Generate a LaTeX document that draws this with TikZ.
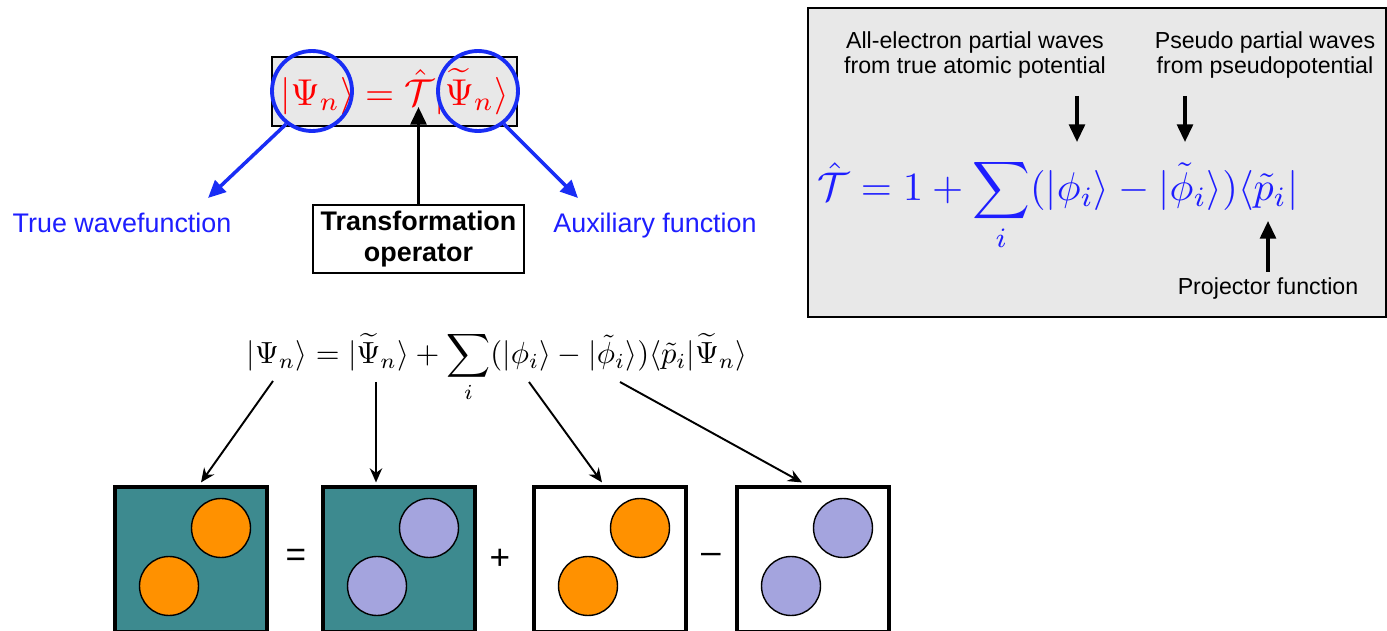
\documentclass[tikz,border=0pt]{standalone}
\usepackage{amsmath}
\usepackage[no-math]{fontspec}
\newfontfamily\arialfont{Liberation Sans}
\usetikzlibrary{calc,arrows.meta,positioning}
\definecolor{ringblue}{RGB}{25,45,245}
\definecolor{lblblue}{RGB}{30,30,255}
\definecolor{panelgray}{RGB}{232,232,232}
\definecolor{cellteal}{RGB}{61,138,143}
\definecolor{coreorange}{RGB}{255,145,0}
\definecolor{corelav}{RGB}{164,164,222}
\tikzset{
  bluelbl/.style={text=lblblue,font=\arialfont\fontsize{15.3}{18}\selectfont},
  ring/.style={draw=ringblue,line width=2.2pt,circle,minimum size=1.6cm,inner sep=0pt},
  bluearr/.style={draw=ringblue,line width=2pt,-{Triangle[length=10pt,width=9pt]}},
  thickarr/.style={line width=1.8pt,-{Triangle[length=10pt,width=9pt]}},
  thinarr/.style={line width=1.1pt,-{Stealth[length=8pt,width=7pt]}},
  note/.style={font=\arialfont\fontsize{13.2}{14.6}\selectfont,align=center},
  cell/.style={draw,line width=1.8pt,minimum width=3.04cm,minimum height=2.9cm,inner sep=0pt},
  core/.style={draw,line width=0.8pt,circle,minimum size=1.18cm,inner sep=0pt},
  opsign/.style={font=\arialfont\fontsize{20}{24}\selectfont}
}

\begin{document}
\begin{tikzpicture}[x=0.02cm,y=-0.02cm]
  %%%%% START %%%%%
  \useasboundingbox (0,0) rectangle (1387,631);

  % top: transformation of the wavefunction
  \node[draw,line width=1pt,fill=panelgray,minimum width=4.9cm,minimum height=1.38cm,inner sep=0pt,
        text=red] (topeq) at (394.5,91.5)
        {\scalebox{2.13}{$|\Psi_n\rangle=\hat{\mathcal{T}}|\widetilde{\Psi}_n\rangle$}};
  \node[ring] (lring) at (312,91) {};
  \node[ring] (rring) at (478,91) {};

  \node[bluelbl] (truewf) at (122,223) {True wavefunction};
  \node[bluelbl] (auxf) at (655,226) {Auxiliary function};
  \node[draw,line width=1.2pt,minimum width=4.22cm,minimum height=1.36cm,align=center,
        font=\arialfont\bfseries\fontsize{15.3}{18}\selectfont] (transop) at (418.5,239)
        {Transformation\\operator};

  \coordinate (truetip) at (208,198);
  \coordinate (auxtip) at (578,198);
  \coordinate (Ttip) at (418.5,107);
  \draw[bluearr] (lring.232) -- (truetip);
  \draw[bluearr] (rring.-52) -- (auxtip);
  \draw[thickarr] (transop.north) -- (Ttip);

  % right panel: the operator
  \node[draw,line width=1.2pt,fill=panelgray,minimum width=11.56cm,minimum height=6.18cm] (panel) at (1097,162.5) {};
  \node[note] (aewaves) at (975,55) {All-electron partial waves\\from true atomic potential};
  \node[note] (pswaves) at (1265,55) {Pseudo partial waves\\from pseudopotential};
  \node[text=lblblue] (Teq) at (1058,205)
        {\scalebox{2.28}{$\hat{\mathcal{T}}=1+\displaystyle\sum_i(|\phi_i\rangle-|\tilde{\phi}_i\rangle)\langle\tilde{p}_i|$}};
  \node[note] (proj) at (1268,289) {Projector function};

  \coordinate (aetop) at (1077,96);
  \coordinate (aetip) at (1077,142);
  \coordinate (pstop) at (1185,96);
  \coordinate (pstip) at (1185,142);
  \coordinate (projtip) at (1268,221);
  \draw[thickarr] (aetop) -- (aetip);
  \draw[thickarr] (pstop) -- (pstip);
  \draw[thickarr] (proj.north) -- (projtip);

  % bottom: the decomposition
  \node (sumeq) at (497,367)
        {\scalebox{1.74}{$|\Psi_n\rangle=|\widetilde{\Psi}_n\rangle+\displaystyle\sum_i(|\phi_i\rangle-|\tilde{\phi}_i\rangle)\langle\tilde{p}_i|\widetilde{\Psi}_n\rangle$}};

  \foreach \name/\cx/\bg/\dot in {box1/191/cellteal/coreorange,box2/399/cellteal/corelav,
                                   box3/610/white/coreorange,box4/813/white/corelav}{
    \node[cell,fill=\bg] (\name) at (\cx,559.5) {};
    \node[core,fill=\dot] at ($(\name.center)+(30,-31.5)$) {};
    \node[core,fill=\dot] at ($(\name.center)+(-22,26.5)$) {};
  }
  \node[opsign] (eqsign) at (296,558) {=};
  \node[opsign] (plussign) at (500,559) {+};
  \node[opsign] (minussign) at (711,558) {\textendash};

  \coordinate (s1) at (273,381);
  \coordinate (s2) at (376,382);
  \coordinate (s3) at (529,382);
  \coordinate (s4) at (620,382);
  \draw[thinarr] (s1) -- ($(box1.north)+(10,-3)$);
  \draw[thinarr] (s2) -- ($(box2.north)+(-23,-3)$);
  \draw[thinarr] (s3) -- ($(box3.north)+(-8,-3)$);
  \draw[thinarr] (s4) -- ($(box4.north)+(-11,-3)$);
  %%%%% END %%%%%
\end{tikzpicture}
\end{document}
